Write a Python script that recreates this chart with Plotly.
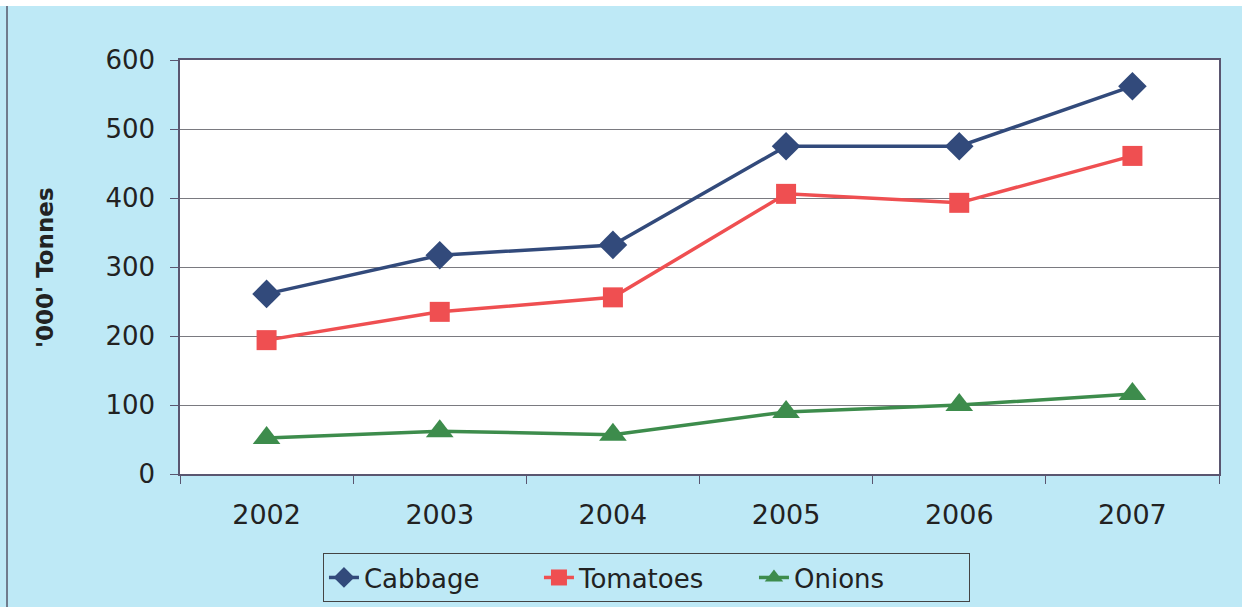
import plotly.graph_objects as go

years = ["2002", "2003", "2004", "2005", "2006", "2007"]
cabbage = [261, 317, 332, 475, 475, 562]
tomatoes = [194, 235, 256, 406, 393, 461]
onions = [52, 62, 57, 90, 100, 116]
y_ticks = [0, 100, 200, 300, 400, 500, 600]

BG = "#bee9f6"
AX = "#5a5670"
FONT = "DejaVu Sans, Liberation Sans, Arial, sans-serif"

fig = go.Figure()
fig.add_trace(go.Scatter(x=years, y=cabbage, name="Cabbage", mode="lines+markers",
                         line=dict(color="#324a7b", width=3.5),
                         marker=dict(symbol="diamond", size=22, color="#324a7b")))
fig.add_trace(go.Scatter(x=years, y=tomatoes, name="Tomatoes", mode="lines+markers",
                         line=dict(color="#ef4f51", width=3.5),
                         marker=dict(symbol="square", size=20, color="#ef4f51")))
fig.add_trace(go.Scatter(x=years, y=onions, name="Onions", mode="lines+markers",
                         line=dict(color="#3d8c4c", width=3.5),
                         marker=dict(symbol="triangle-up", size=24, color="#3d8c4c")))

fig.update_layout(
    width=1242, height=607,
    margin=dict(l=180, r=23, t=60, b=133, autoexpand=False),
    paper_bgcolor=BG, plot_bgcolor="white",
    font=dict(family=FONT, size=26, color="#222222"),
    showlegend=True,
    legend=dict(orientation="h", x=0.1376, y=-0.191, xanchor="left", yanchor="top",
                bgcolor=BG, bordercolor="#444444", borderwidth=1,
                font=dict(size=26, family=FONT, color="#222222"),
                entrywidth=170, entrywidthmode="pixels",
                itemsizing="trace", tracegroupgap=0),
    xaxis=dict(type="category", range=[-0.5, 5.5], showline=True, linecolor=AX, linewidth=1.5,
               mirror=True, ticks="outside", tickson="boundaries", ticklen=8, tickcolor=AX,
               showgrid=False, tickfont=dict(size=27), ticklabelstandoff=16, automargin=False),
    yaxis=dict(range=[0, 600], tickvals=y_ticks, showline=True, linecolor=AX, linewidth=1.5,
               mirror=True, ticks="outside", ticklen=8, tickcolor=AX,
               showgrid=True, gridcolor="#7a7a80", gridwidth=1, zeroline=False,
               tickfont=dict(size=26), ticklabelstandoff=10, automargin=False),
    annotations=[dict(text="<b>'000' Tonnes</b>", x=-0.13, y=0.5, xref="paper", yref="paper",
                      textangle=-90, showarrow=False, font=dict(size=23, color="#222222"),
                      xanchor="center", yanchor="middle")],
    shapes=[
        dict(type="rect", xref="paper", yref="paper", x0=-0.2, x1=1.05,
             y0=1.1304, y1=1.16, fillcolor="white", line=dict(width=0), layer="below"),
        dict(type="line", xref="paper", yref="paper", x0=-0.1665, x1=-0.1665,
             y0=-0.33, y1=1.1304, line=dict(color="#55576a", width=1.5)),
    ],
)

fig.write_html("out.html")
